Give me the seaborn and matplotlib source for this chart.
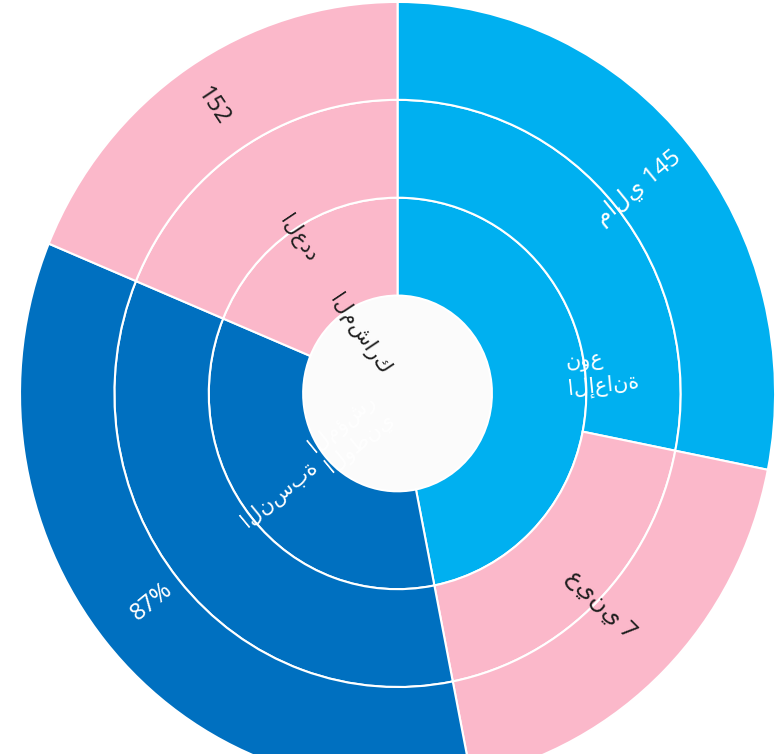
import seaborn as sns
import pandas as pd
import numpy as np
import matplotlib.pyplot as plt

BLUE = "#00B0F0"
NAVY = "#0070C0"
PINK = "#FBB8CA"

# inner ring, clockwise from the top
inner_names = ["نوع\nالإعانة", "النسبة", "العدد"]
centre_names = ["", "المؤشر\nالوطني", "المشارك"]
inner_sizes = [15, 11, 6]
inner_colors = [BLUE, NAVY, PINK]

# two outer rings share the same split
outer_names = ["مالي 145", "عيني 7", "87%", "152"]
outer_sizes = [9, 6, 11, 6]
outer_colors = [BLUE, PINK, NAVY, PINK]

def get_rings():
    inner = pd.DataFrame({"name": inner_names, "centre": centre_names,
                          "size": inner_sizes, "color": inner_colors})
    outer = pd.DataFrame({"name": outer_names, "size": outer_sizes,
                          "color": outer_colors})
    return inner, outer

def put_labels(labels, sizes, colors, radii, size=16):
    total = sum(sizes)
    start = 0
    for label, w, color, r in zip(labels, sizes, colors, radii):
        theta = np.deg2rad(90 - 360 * (start + w / 2) / total)
        start += w
        rot = np.rad2deg(theta)
        if np.cos(theta) < 0:
            rot += 180
        txt_color = "#1e1e1e" if color == PINK else "white"
        plt.text(r * np.cos(theta), r * np.sin(theta), label, rotation=rot,
                 rotation_mode="anchor", ha="center", va="center",
                 multialignment="left", color=txt_color, fontsize=size,
                 linespacing=1.3)

def plot_sunburst(inner, outer):
    wedge = dict(width=0.25, edgecolor="white", linewidth=1.5)
    plt.pie(inner["size"], radius=0.5, colors=inner["color"], startangle=90,
            counterclock=False, wedgeprops=wedge)
    plt.pie(outer["size"], radius=0.75, colors=outer["color"], startangle=90,
            counterclock=False, wedgeprops=wedge)
    plt.pie(outer["size"], radius=1.0, colors=outer["color"], startangle=90,
            counterclock=False, wedgeprops=wedge)
    plt.gca().add_patch(plt.Circle((0, 0), 0.25, color="#fbfbfb", zorder=0.5))

    put_labels(inner["centre"], inner["size"], inner["color"], [0.17, 0.158, 0.18], size=15)
    put_labels(inner["name"], inner["size"], inner["color"], [0.545, 0.405, 0.475], size=15)
    put_labels(outer["name"], outer["size"], outer["color"], [0.826, 0.762, 0.84, 0.88], size=17)

    ax = plt.gca()
    ax.set_aspect("auto")
    ax.set_xlim(-1.053, 1.021)
    ax.set_ylim(-0.921, 1.005)
    ax.axis("off")


sns.set_theme(style="white")
plt.rcParams["font.family"] = ["Noto Sans", "DejaVu Sans"]
plt.figure(figsize=(7.83, 7.54), dpi=100)
plt.axes([0, 0, 1, 1])
inner, outer = get_rings()
plot_sunburst(inner, outer)
plt.savefig("out.png", dpi=100)
